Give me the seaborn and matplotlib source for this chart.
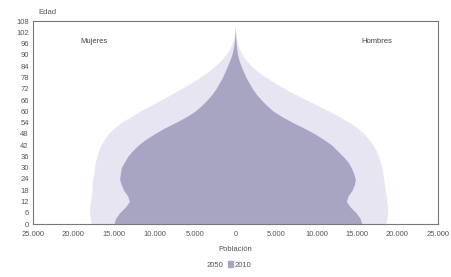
import numpy as np
import seaborn as sns
import matplotlib.pyplot as plt
from matplotlib.ticker import FuncFormatter, MultipleLocator
from matplotlib.patches import Patch

# ages in 3-year steps
ages = [0, 3, 6, 9, 12, 15, 18, 21, 24, 27, 30, 33, 36, 39, 42, 45, 48, 51,
        54, 57, 60, 63, 66, 69, 72, 75, 78, 81, 84, 87, 90, 93, 96, 99, 102, 105]

mujeres_2010 = [15000, 14800, 14300, 13600, 13100, 13300, 13800, 14100, 14300, 14200, 14100, 13700,
                13300, 12700, 12000, 11100, 10000, 8800, 7400, 6100, 5000, 4200, 3500, 2900,
                2400, 2000, 1600, 1300, 1000, 700, 450, 280, 160, 90, 35, 5]
hombres_2010 = [15600, 15400, 14900, 14200, 13700, 13900, 14400, 14700, 14800, 14600, 14300, 13900,
                13300, 12600, 11900, 10900, 9800, 8500, 7100, 5800, 4700, 3900, 3200, 2600,
                2100, 1700, 1300, 1000, 700, 450, 270, 160, 90, 45, 15, 0]
mujeres_2050 = [17800, 17900, 18000, 18000, 17900, 17800, 17700, 17700, 17600, 17500, 17400, 17300,
                17100, 16900, 16600, 16200, 15700, 15000, 14100, 13000, 11800, 10500, 9200, 7900,
                6700, 5500, 4400, 3400, 2500, 1800, 1200, 750, 420, 200, 70, 10]
hombres_2050 = [18600, 18700, 18800, 18800, 18700, 18600, 18500, 18400, 18300, 18200, 18100, 17900,
                17700, 17400, 17000, 16500, 15900, 15100, 14100, 12900, 11600, 10200, 8800, 7400,
                6100, 4900, 3800, 2800, 2000, 1350, 850, 500, 260, 110, 30, 0]

sns.set_theme(style="white")
plt.rcParams['font.family'] = ['Liberation Sans', 'DejaVu Sans']

c2050 = "#e7e5f2"
c2010 = "#a8a5c3"
tc = "#555555"

fig = plt.figure(figsize=(4.51, 2.77), dpi=100)
ax = fig.add_axes([0.073, 0.191, 0.898, 0.733])

y = np.array(ages)
ax.fill_betweenx(y, [-v for v in mujeres_2050], hombres_2050, color=c2050, lw=0)
ax.fill_betweenx(y, [-v for v in mujeres_2010], hombres_2010, color=c2010, lw=0)

ax.set_xlim(-25000, 25000)
ax.set_ylim(0, 108)
ax.xaxis.set_major_locator(MultipleLocator(5000))
ax.yaxis.set_major_locator(MultipleLocator(6))
ax.xaxis.set_major_formatter(FuncFormatter(lambda v, p: f"{abs(int(v)):,}".replace(",", ".")))
ax.tick_params(labelsize=5.5, colors=tc, length=0)
ax.tick_params(axis="x", pad=5)
ax.tick_params(axis="y", pad=3)
for s in ax.spines.values():
    s.set_color("#777777")
    s.set_linewidth(0.8)

ax.text(-17500, 97, "Mujeres", fontsize=5.5, color="#444444", ha="center", va="center")
ax.text(17500, 97, "Hombres", fontsize=5.5, color="#444444", ha="center", va="center")
fig.text(0.085, 0.955, "Edad", fontsize=5.5, color=tc, ha="left", va="center")
ax.set_xlabel("Población", fontsize=5.5, color=tc, labelpad=6)

handles = [Patch(color="white", label="2050"), Patch(color=c2010, label="2010")]
fig.legend(handles=handles, loc="center", bbox_to_anchor=(0.5, 0.043), ncol=2, frameon=False,
           fontsize=5.5, handlelength=0.7, handleheight=0.7, columnspacing=0.6, handletextpad=0.2,
           labelcolor=tc)

fig.savefig("out.png", dpi=100)
